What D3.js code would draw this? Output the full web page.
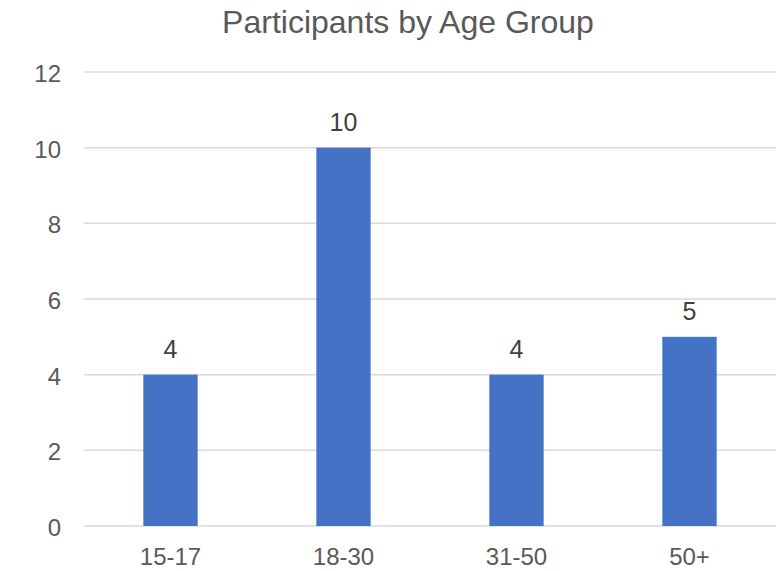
<!DOCTYPE html>
<html>
<head>
<meta charset="utf-8">
<script src="https://cdn.jsdelivr.net/npm/d3@7"></script>
<style>
  body { margin: 0; background: #fff; }
  text { font-family: "Liberation Sans", Arial, sans-serif; }
</style>
</head>
<body>
<svg id="chart"></svg>
<script>
var categories = ["15-17", "18-30", "31-50", "50+"];
var participants = [4, 10, 4, 5];
var yTicks = [0, 2, 4, 6, 8, 10, 12];

var svgWidth = 780, svgHeight = 571;
var margin = {top: 72, right: 4, bottom: 45, left: 84};

var svg = d3.select('#chart')
    .attr("width", svgWidth)
    .attr("height", svgHeight);

var xScale = d3.scaleBand()
    .domain(categories)
    .range([margin.left, svgWidth - margin.right])
    .paddingInner(0.686)
    .paddingOuter(0.343);

var yScale = d3.scaleLinear()
    .domain([0, 12])
    .range([svgHeight - margin.bottom, margin.top]);

// title
svg.append("text")
    .attr("x", 408)
    .attr("y", 33)
    .attr("text-anchor", "middle")
    .attr("fill", "#595959")
    .style("font-size", "32px")
    .text("Participants by Age Group");

// gridlines
svg.selectAll(".grid")
    .data(yTicks)
    .enter()
    .append("line")
    .attr("x1", margin.left)
    .attr("x2", svgWidth - margin.right)
    .attr("y1", function(d) { return yScale(d); })
    .attr("y2", function(d) { return yScale(d); })
    .attr("stroke", "#d9d9d9")
    .attr("stroke-width", 1.5);

// y axis labels
var yAxis = d3.axisLeft(yScale).tickValues(yTicks).tickSize(0).tickPadding(0);
var gy = svg.append("g")
    .attr("transform", "translate(61,0)")
    .call(yAxis);
gy.select(".domain").remove();
gy.selectAll("text")
    .attr("dy", "0.4em")
    .attr("fill", "#595959")
    .style("font-size", "24px")
    .style("font-family", "Liberation Sans, Arial, sans-serif");

// x axis labels
var xAxis = d3.axisBottom(xScale).tickSize(0).tickPadding(22);
var gx = svg.append("g")
    .attr("transform", "translate(0," + yScale(0) + ")")
    .call(xAxis);
gx.select(".domain").remove();
gx.selectAll("text")
    .attr("fill", "#595959")
    .style("font-size", "24px")
    .style("font-family", "Liberation Sans, Arial, sans-serif");

// bars
svg.selectAll(".bar")
    .data(participants)
    .enter()
    .append("rect")
    .attr("class", "bar")
    .attr("x", function(d, i) { return xScale(categories[i]); })
    .attr("y", function(d) { return yScale(d); })
    .attr("width", xScale.bandwidth())
    .attr("height", function(d) { return yScale(0) - yScale(d); })
    .attr("fill", "#4472c4");

// data labels
svg.selectAll(".label")
    .data(participants)
    .enter()
    .append("text")
    .attr("class", "label")
    .attr("x", function(d, i) { return xScale(categories[i]) + xScale.bandwidth() / 2; })
    .attr("y", function(d) { return yScale(d) - 17; })
    .attr("text-anchor", "middle")
    .attr("fill", "#404040")
    .style("font-size", "25px")
    .text(function(d) { return d; });
</script>
</body>
</html>
